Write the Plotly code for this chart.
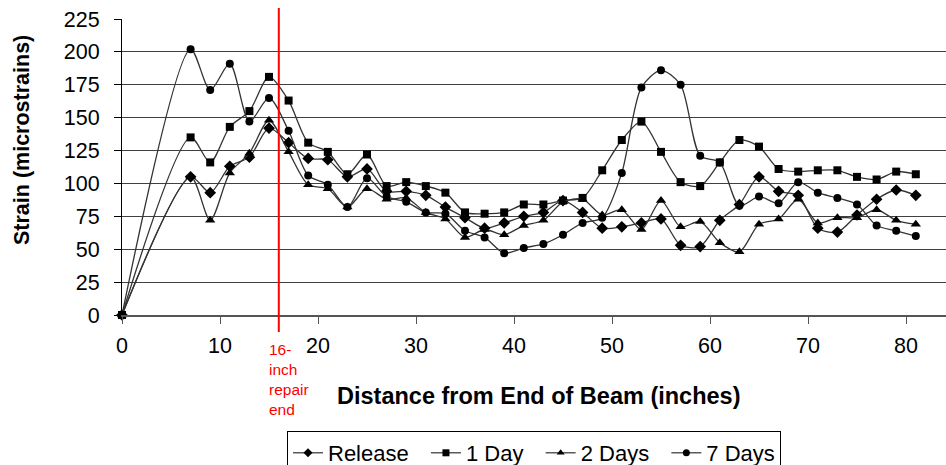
import plotly.graph_objects as go

distance = [0, 7, 9, 11, 13, 15, 17, 19, 21, 23, 25, 27, 29, 31, 33, 35, 37, 39, 41, 43,
            45, 47, 49, 51, 53, 55, 57, 59, 61, 63, 65, 67, 69, 71, 73, 75, 77, 79, 81]

release = [0, 105, 93, 113, 120, 142, 131, 119, 118, 105, 111, 94, 94, 91, 82, 74, 66, 70, 75, 78,
           87, 78, 66, 67, 70, 73, 53, 52, 72, 84, 105, 94, 91, 66, 63, 76, 88, 95, 91]
day1 = [0, 135, 116, 143, 155, 181, 163, 131, 124, 107, 122, 98, 101, 98, 93, 78, 77, 78, 84, 84,
        87, 89, 110, 133, 147, 124, 101, 98, 116, 133, 128, 111, 109, 110, 110, 105, 103, 109, 107]
days2 = [0, 105, 72, 108, 123, 148, 124, 99, 96, 82, 96, 88, 89, 78, 73, 59, 65, 61, 68, 72,
         86, 88, 76, 80, 65, 87, 67, 71, 55, 48, 69, 73, 88, 70, 74, 74, 80, 72, 69]
days7 = [0, 202, 171, 191, 147, 165, 140, 106, 99, 82, 104, 90, 86, 78, 77, 64, 59, 47, 51, 54,
         61, 70, 74, 108, 173, 186, 175, 121, 116, 83, 90, 85, 101, 93, 89, 84, 68, 64, 60]

series_names = ["Release", "1 Day", "2 Days", "7 Days"]
series_symbols = ["diamond", "square", "triangle-up", "circle"]
series_sizes = [9, 8, 9, 8]
legend_pad = [2, 2, 2, 0]

x_ticks = [0, 10, 20, 30, 40, 50, 60, 70, 80]
y_ticks = [0, 25, 50, 75, 100, 125, 150, 175, 200, 225]
repair_end = 16
repair_label = "16-<br>inch<br>repair<br>end"

W, H = 946, 465
L, R, T, B = 122, 0, 19, 150
plot_w = W - L - R
plot_h = H - T - B

fig = go.Figure()
for name, ys, sym, sz in zip(series_names, [release, day1, days2, days7], series_symbols, series_sizes):
    fig.add_trace(go.Scatter(
        x=distance, y=ys, name=name, mode="lines+markers", showlegend=False,
        line=dict(color="#333333", width=1.3, shape="spline", smoothing=0.8),
        marker=dict(symbol=sym, size=sz, color="black", line=dict(width=0)),
        cliponaxis=False,
    ))
# legend entries (small symbols like the original)
for name, sym, pad in zip(series_names, series_symbols, legend_pad):
    fig.add_trace(go.Scatter(
        x=[None], y=[None], name=name + "\u00a0" * pad, mode="lines+markers",
        line=dict(color="#333333", width=1.2),
        marker=dict(symbol=sym, size=7, color="black", line=dict(width=0)),
    ))

fig.add_shape(type="line", xref="x", yref="paper",
              x0=repair_end, x1=repair_end,
              y0=(T + plot_h - 332) / plot_h, y1=(T + plot_h - 8) / plot_h,
              line=dict(color="#ff0000", width=2))

fig.add_annotation(xref="x", yref="paper", x=repair_end, y=(T + plot_h - 339) / plot_h,
                   text=repair_label, showarrow=False, xanchor="left", yanchor="top",
                   xshift=-12, align="left",
                   font=dict(family="Liberation Sans", size=15.5, color="#ff0000"))

fig.add_annotation(xref="paper", yref="paper", x=(22 - L) / plot_w, y=(T + plot_h - 140) / plot_h,
                   text="<b>Strain (microstrains)</b>", showarrow=False, textangle=-90,
                   xanchor="center", yanchor="middle",
                   font=dict(family="Liberation Sans", size=21.5, color="black"))

fig.add_annotation(xref="paper", yref="paper", x=(539 - L) / plot_w, y=(T + plot_h - 396) / plot_h,
                   text="<b>Distance from End of Beam (inches)</b>", showarrow=False,
                   xanchor="center", yanchor="middle",
                   font=dict(family="Liberation Sans", size=23.5, color="black"))

fig.update_layout(
    width=W, height=H,
    margin=dict(l=L, r=R, t=T, b=B, pad=0, autoexpand=False),
    paper_bgcolor="white", plot_bgcolor="white",
    font=dict(family="Liberation Sans", size=21, color="black"),
    showlegend=True,
    legend=dict(orientation="h", xanchor="center", yanchor="top",
                x=(534 - L) / plot_w, y=(T + plot_h - 431) / plot_h,
                bordercolor="black", borderwidth=1, bgcolor="white",
                font=dict(family="Liberation Sans", size=22, color="black"),
                tracegroupgap=0, itemwidth=30),
    xaxis=dict(range=[0, plot_w / 9.8], tickmode="array", tickvals=x_ticks,
               showgrid=False, zeroline=False, showline=True, linecolor="#555555", linewidth=1.5,
               ticks="outside", ticklen=7, tickcolor="#555555", ticklabelstandoff=3,
               tickfont=dict(size=21.5)),
    yaxis=dict(range=[0, 225], tickmode="array", tickvals=y_ticks,
               showgrid=True, gridcolor="#404040", gridwidth=1,
               zeroline=False, showline=True, linecolor="black", linewidth=1,
               ticks="outside", ticklen=7, tickcolor="black", ticklabelstandoff=10,
               tickfont=dict(size=21.5)),
)

fig.write_html("out.html")
